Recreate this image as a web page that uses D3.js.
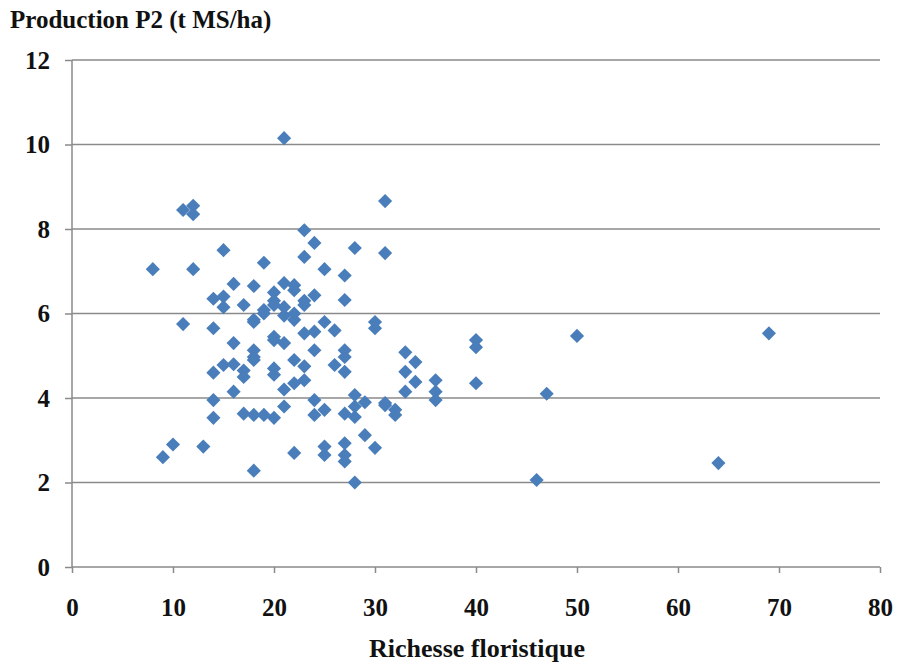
<!DOCTYPE html>
<html><head><meta charset="utf-8">
<script src="https://cdn.jsdelivr.net/npm/d3@7"></script>
<style>body{margin:0;background:#fff}svg{display:block}</style>
</head><body>
<svg id="c" width="901" height="668"></svg>
<script>
const richesse = [8,9,10,11,12,12,11,12,13,
14,14,14,14,14,
15,15,15,15,
16,16,16,16,
17,17,17,17,
18,18,18,18,18,18,18,18,
19,19,19,19,
20,20,20,20,20,20,20,20,
21,21,21,21,21,21,21,
22,22,22,22,22,22,22,
23,23,23,23,23,23,23,
24,24,24,24,24,24,
25,25,25,25,25,
26,26,
27,27,27,27,27,27,27,27,27,
28,28,28,28,28,
29,29,
30,30,30,
31,31,31,31,
32,32,
33,33,33,
34,34,
36,36,36,
40,40,40,
46,47,50,64,69];
const production = [7.05,2.6,2.9,8.45,8.55,8.35,5.75,7.05,2.85,
6.35,5.65,4.6,3.95,3.53,
7.5,6.4,6.15,4.78,
6.7,5.3,4.8,4.15,
6.2,4.65,4.5,3.63,
6.65,5.85,5.8,5.13,4.9,4.97,3.6,2.28,
7.2,6.08,6.0,3.6,
6.5,6.2,5.45,5.37,4.7,4.55,3.53,6.3,
10.15,6.72,6.15,5.95,5.3,4.2,3.8,
6.67,6.55,6.0,5.85,4.9,4.35,2.7,
7.97,7.34,6.3,6.2,5.53,4.75,4.42,
7.67,6.43,5.57,5.13,3.95,3.6,
7.05,5.8,3.72,2.85,2.65,
5.6,4.78,
6.9,6.32,5.13,4.97,4.62,3.63,2.93,2.65,2.5,
7.55,4.07,3.8,3.55,2.0,
3.9,3.12,
5.8,5.65,2.82,
8.66,7.43,3.88,3.83,
3.72,3.6,
5.08,4.62,4.15,
4.85,4.38,
4.42,4.15,3.95,
5.37,5.2,4.35,
2.06,4.1,5.47,2.46,5.53];
const xTicks = [0,10,20,30,40,50,60,70,80];
const yTicks = [0,2,4,6,8,10,12];
const yTitle = "Production P2 (t MS/ha)";
const xTitle = "Richesse floristique";

const svg = d3.select("#c");
const x = d3.scaleLinear().domain([0,80]).range([72,880]);
const y = d3.scaleLinear().domain([0,12]).range([567,60]);
const font = "'Liberation Serif','Times New Roman',serif";
const grid = "#8a8a8a";

// gridlines
svg.append("g").selectAll("line").data(yTicks.filter(d=>d>0)).join("line")
  .attr("x1",x(0)).attr("x2",x(80)).attr("y1",d=>y(d)).attr("y2",d=>y(d))
  .attr("stroke",grid).attr("stroke-width",1.5);

// axes
const xa = svg.append("g").attr("transform",`translate(0,${y(0)})`)
  .call(d3.axisBottom(x).tickValues(xTicks).tickSize(6).tickPadding(25));
const ya = svg.append("g").attr("transform",`translate(${x(0)},0)`)
  .call(d3.axisLeft(y).tickValues(yTicks).tickSize(7).tickPadding(15));
[xa,ya].forEach(a=>{
  a.select(".domain").attr("stroke",grid).attr("stroke-width",1.5);
  a.selectAll(".tick line").attr("stroke",grid).attr("stroke-width",1.5);
  a.selectAll(".tick text").attr("font-family",font).attr("font-weight","bold")
   .attr("font-size",25).attr("fill","#111");
});
ya.select(".domain").attr("d",`M0,${y(12)}V${y(0)}`);
xa.select(".domain").attr("d",`M${x(0)},0H${x(80)}`);

// points
const sym = d3.symbol().type(d3.symbolSquare).size(100);
svg.append("g").selectAll("path").data(richesse.map((r,i)=>[r,production[i]])).join("path")
  .attr("d",sym)
  .attr("transform",d=>`translate(${x(d[0])},${y(d[1])}) rotate(45)`)
  .attr("fill","#4a7ebb");

// titles
svg.append("text").attr("x",10).attr("y",28).text(yTitle)
  .attr("font-family",font).attr("font-weight","bold").attr("font-size",25).attr("fill","#111");
svg.append("text").attr("x",477).attr("y",657).attr("text-anchor","middle").text(xTitle)
  .attr("font-family",font).attr("font-weight","bold").attr("font-size",26).attr("fill","#111");
</script>
</body></html>
